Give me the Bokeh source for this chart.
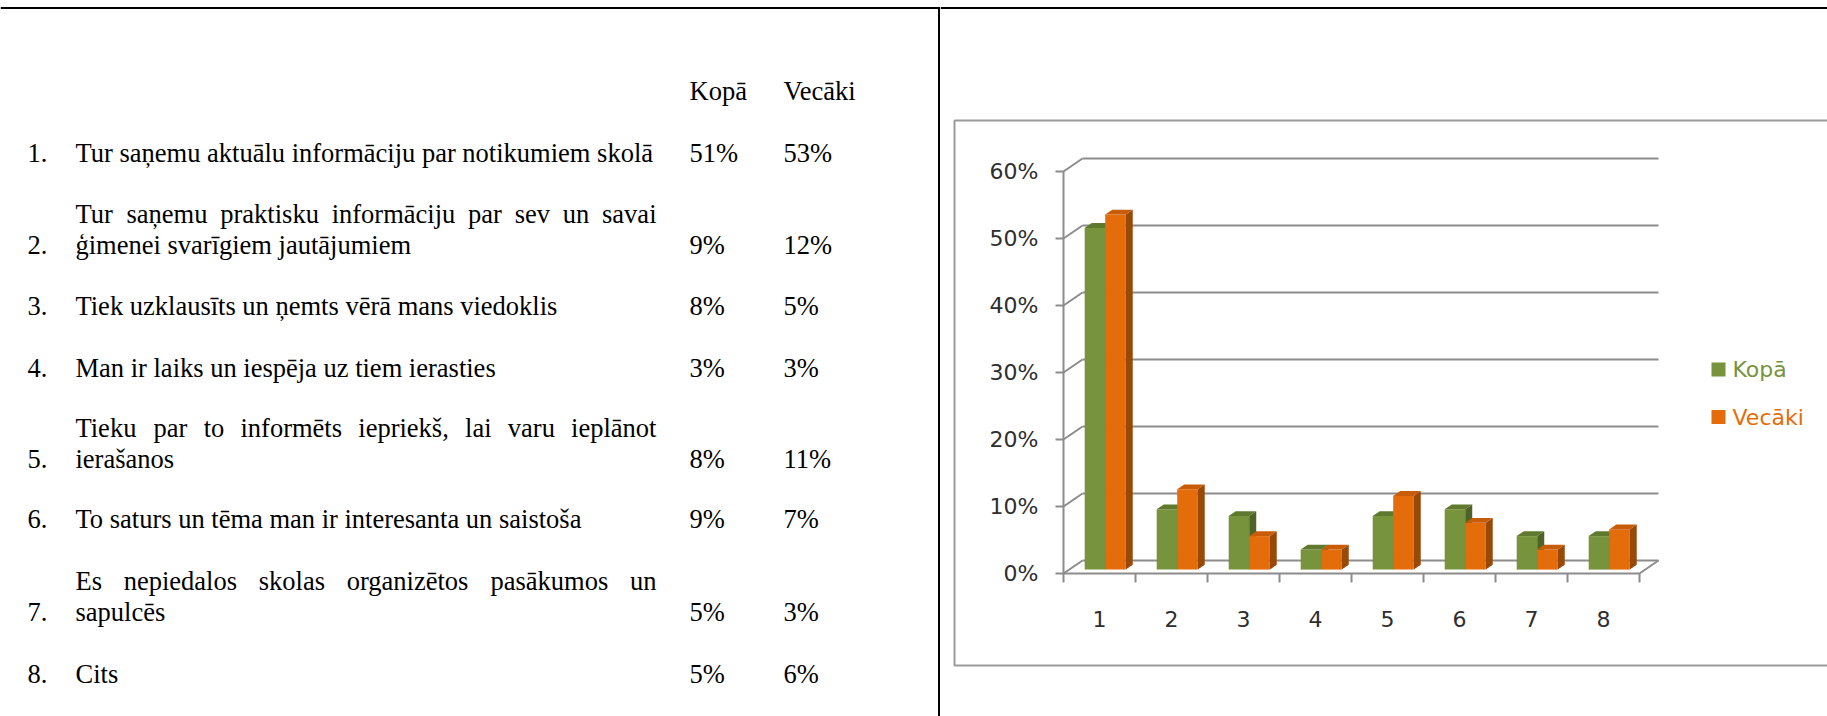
from bokeh.plotting import figure
from bokeh.layouts import row
from bokeh.models import Range1d, ColumnDataSource
from bokeh.embed import file_html
from bokeh.resources import INLINE
from bokeh.core.properties import value

# ---------------- data ----------------
column_headers = ["Kopā", "Vecāki"]
item_numbers = ["1.", "2.", "3.", "4.", "5.", "6.", "7.", "8."]
item_lines = [
    ["Tur saņemu aktuālu informāciju par notikumiem skolā"],
    ["Tur saņemu praktisku informāciju par sev un savai", "ģimenei svarīgiem jautājumiem"],
    ["Tiek uzklausīts un ņemts vērā mans viedoklis"],
    ["Man ir laiks un iespēja uz tiem ierasties"],
    ["Tieku par to informēts iepriekš, lai varu ieplānot", "ierašanos"],
    ["To saturs un tēma man ir interesanta un saistoša"],
    ["Es nepiedalos skolas organizētos pasākumos un", "sapulcēs"],
    ["Cits"],
]
categories = ["1", "2", "3", "4", "5", "6", "7", "8"]
kopa = [51, 9, 8, 3, 8, 9, 5, 5]
vecaki = [53, 12, 5, 3, 11, 7, 3, 6]
series_names = ["Kopā", "Vecāki"]
y_ticks = [0, 10, 20, 30, 40, 50, 60]
y_tick_labels = ["0%", "10%", "20%", "30%", "40%", "50%", "60%"]

# ---------------- layout / style ----------------
TOP, BOTTOM = 0, 716
H = BOTTOM - TOP
LEFT_X0, LEFT_X1 = 0, 940
RIGHT_X0, RIGHT_X1 = 940, 1827
SERIF = "Liberation Serif"
SANS = "DejaVu Sans"
TFS = 26.5  # table font size px
header_y = 90
row_y = [152, 213, 305, 367, 427, 518, 580, 673]
line_gap = 31
num_x, text_x, text_right = 27, 75, 656
kopa_x, vec_x = 689, 783
RULE_Y = 7.5

# Times/Liberation Serif advance widths (per 1000 em) for justification
TW = {' ': 250, 'a': 444, 'b': 500, 'c': 444, 'd': 500, 'e': 444, 'f': 333, 'g': 500, 'h': 500,
      'i': 278, 'j': 278, 'k': 500, 'l': 278, 'm': 778, 'n': 500, 'o': 500, 'p': 500, 'q': 500,
      'r': 333, 's': 389, 't': 278, 'u': 500, 'v': 500, 'w': 722, 'x': 500, 'y': 500, 'z': 444,
      'A': 722, 'C': 667, 'E': 611, 'M': 889, 'T': 611, ',': 250, '.': 250, '%': 833}
ACC = {'ā': 'a', 'ē': 'e', 'ī': 'i', 'ū': 'u', 'ņ': 'n', 'ļ': 'l', 'ķ': 'k', 'ģ': 'g', 'š': 's',
       'ž': 'z', 'č': 'c'}


def tw(s):
    return sum(TW.get(ACC.get(ch, ch), 500) for ch in s) * TFS / 1000.0


# ---------------- left: table ----------------
left = figure(width=LEFT_X1 - LEFT_X0, height=H, x_range=Range1d(LEFT_X0, LEFT_X1),
              y_range=Range1d(BOTTOM, TOP), x_axis_type=None, y_axis_type=None,
              toolbar_location=None, output_backend="svg", min_border=0,
              outline_line_color=None, background_fill_color="white")
left.grid.visible = False

# frame lines of the document table
left.segment(x0=[LEFT_X0, 938.5], y0=[RULE_Y, RULE_Y], x1=[LEFT_X1, 938.5], y1=[RULE_Y, BOTTOM],
             line_color="black", line_width=2)

tx, ty, tt = [], [], []
tx += [kopa_x, vec_x]
ty += [header_y, header_y]
tt += column_headers
for i, lines in enumerate(item_lines):
    y_last = row_y[i] + line_gap * (len(lines) - 1)
    tx.append(num_x); ty.append(y_last); tt.append(item_numbers[i])
    for j, ln in enumerate(lines):
        yy = row_y[i] + line_gap * j
        if j < len(lines) - 1:
            words = ln.split()
            ws = [tw(w) for w in words]
            gap = (text_right - text_x - sum(ws)) / (len(words) - 1)
            cx = text_x
            for w, wd in zip(words, ws):
                tx.append(cx); ty.append(yy); tt.append(w)
                cx += wd + gap
        else:
            tx.append(text_x); ty.append(yy); tt.append(ln)
    tx += [kopa_x, vec_x]
    ty += [y_last, y_last]
    tt += [f"{kopa[i]}%", f"{vecaki[i]}%"]

left.text(x="x", y="y", text="t", source=ColumnDataSource(dict(x=tx, y=ty, t=tt)),
          text_font=value(SERIF), text_font_size=f"{TFS}px", text_color="black",
          text_baseline="middle", text_align="left")

# ---------------- right: 3D-look clustered column chart ----------------
PX_CAT = 72.0
AXIS_PX = 1063.0
ZERO_PY = 573.0
PX_PCT = 6.7
x_start = 0.5 - (AXIS_PX - RIGHT_X0) / PX_CAT
x_end = x_start + (RIGHT_X1 - RIGHT_X0) / PX_CAT
y_end = (ZERO_PY - TOP) / PX_PCT
y_start = (ZERO_PY - BOTTOM) / PX_PCT


def X(px):
    return x_start + (px - RIGHT_X0) / PX_CAT


def Y(py):
    return (ZERO_PY - py) / PX_PCT


DX = 19 / PX_CAT      # depth offset (x) of the wall
DY = 13 / PX_PCT      # depth offset (y) of the wall
ncat = len(categories)
xl, xr = 0.5, ncat + 0.5

p = figure(width=RIGHT_X1 - RIGHT_X0, height=H, x_range=Range1d(x_start, x_end),
           y_range=Range1d(y_start, y_end), x_axis_type=None, y_axis_type=None,
           toolbar_location=None, output_backend="svg", min_border=0,
           outline_line_color=None, background_fill_color="white")
p.grid.visible = False

# document top rule
p.segment(x0=[X(RIGHT_X0)], y0=[Y(RULE_Y)], x1=[X(RIGHT_X1)], y1=[Y(RULE_Y)],
          line_color="black", line_width=2)

# chart area border
bx0, by0, by1, bx1 = X(954), Y(120), Y(665), X(1840)
p.multi_line(xs=[[bx1, bx0, bx0, bx1]], ys=[[by0, by0, by1, by1]], line_color="#9a9a9a", line_width=2)

GRID = "#8c8c8c"
# back wall gridlines
p.multi_line(xs=[[xl + DX, xr + DX] for _ in y_ticks], ys=[[v + DY, v + DY] for v in y_ticks],
             line_color=GRID, line_width=2)
# diagonals from axis to wall
p.multi_line(xs=[[xl, xl + DX] for _ in y_ticks], ys=[[v, v + DY] for v in y_ticks],
             line_color=GRID, line_width=2)
# y axis line and ticks
p.segment(x0=[xl], y0=[y_ticks[0]], x1=[xl], y1=[y_ticks[-1]], line_color=GRID, line_width=2)
p.segment(x0=[xl - 8 / PX_CAT] * len(y_ticks), y0=y_ticks, x1=[xl] * len(y_ticks), y1=y_ticks,
          line_color=GRID, line_width=2)
# floor front edge and right edge
p.multi_line(xs=[[xl, xr, xr + DX]], ys=[[0, 0, DY]], line_color=GRID, line_width=2)
# x ticks
xt = [xl + k for k in range(ncat + 1)]
p.segment(x0=xt, y0=[0] * len(xt), x1=xt, y1=[-9 / PX_PCT] * len(xt), line_color=GRID, line_width=2)

# bars
BW = 20.5 / PX_CAT
F0, F1 = 0.3, 0.67
dd_x = (F1 - F0) * DX
dd_y = (F1 - F0) * DY
series = [(kopa, "#77933C", "#5F7A2E", "#4F6228"),
          (vecaki, "#E46C0A", "#C85C08", "#984807")]
for s, (vals, c_front, c_top, c_side) in enumerate(series):
    lefts = [k + 1 - BW + s * BW + F0 * DX for k in range(ncat)]
    rights = [l + BW for l in lefts]
    bots = [F0 * DY] * ncat
    tops = [v + F0 * DY for v in vals]
    p.quad(left=lefts, right=rights, bottom=bots, top=tops, fill_color=c_front, line_color=None)
    p.patches(xs=[[r, r, r + dd_x, r + dd_x] for r in rights],
              ys=[[b, t, t + dd_y, b + dd_y] for b, t in zip(bots, tops)],
              fill_color=c_side, line_color=None)
    p.patches(xs=[[l, r, r + dd_x, l + dd_x] for l, r in zip(lefts, rights)],
              ys=[[t, t, t + dd_y, t + dd_y] for t in tops],
              fill_color=c_top, line_color=None)

# axis labels
LABEL_C = "#2e2e2e"
p.text(x=[xl] * len(y_ticks), y=y_ticks, text=y_tick_labels, x_offset=-25,
       text_font=value(SANS), text_font_size="22px", text_color=LABEL_C,
       text_align="right", text_baseline="middle")
p.text(x=[k + 1 for k in range(ncat)], y=[0] * ncat, text=categories, y_offset=45,
       text_font=value(SANS), text_font_size="22px", text_color=LABEL_C,
       text_align="center", text_baseline="middle")

# legend
leg_colors = [series[0][1], series[1][1]]
leg_py = [369, 416.5]
p.scatter(x=[X(1718)] * 2, y=[Y(v) for v in leg_py], marker="square", size=14,
          fill_color=leg_colors, line_color=None)
p.text(x=[X(1732)] * 2, y=[Y(v) for v in leg_py], text=series_names,
       text_color=leg_colors, text_font=value(SANS), text_font_size="22px",
       text_align="left", text_baseline="middle")

layout = row(left, p, spacing=0)
open("out.html", "w").write(file_html(layout, INLINE))
